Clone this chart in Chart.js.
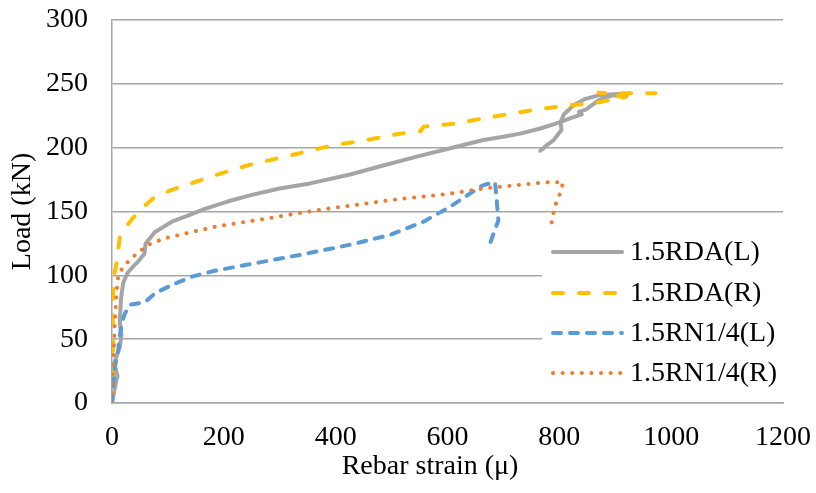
<!DOCTYPE html>
<html>
<head>
<meta charset="utf-8">
<script src="https://cdn.jsdelivr.net/npm/chart.js@4.4.1/dist/chart.umd.min.js"></script>
<style>
  html, body { margin: 0; padding: 0; background: #fff; }
  #wrap { width: 816px; height: 493px; }
</style>
</head>
<body>
<div id="wrap"><canvas id="loadChart" width="816" height="493"></canvas></div>
<script>
// Axis ticks
const xTicks = [0, 200, 400, 600, 800, 1000, 1200];
const yTicks = [0, 50, 100, 150, 200, 250, 300];

// 1.5RDA(L)
const rdaLStrain = [0, 8, 10, 4, 14, 17, 14, 16, 20, 28, 38, 47, 58, 60, 77, 107, 137, 166, 208, 250, 300, 354, 426, 485, 545, 605, 664, 700, 730, 766, 795, 819, 840, 835, 848, 870, 895, 920, 905, 870, 845, 825, 808, 802, 804, 790, 775, 766];
const rdaLLoad = [1, 18, 21, 31, 44, 53, 63, 81, 94, 102, 107, 111, 117, 125, 134, 142, 147, 152, 158, 163, 168, 172, 179, 186, 193, 199.5, 206, 208.6, 211, 215, 219, 223, 226, 228, 230, 237, 241, 240.6, 242, 241, 238, 233, 226, 220, 214, 206, 201, 197.6];

// 1.5RDA(R)
const rdaRStrain = [0, 1, 2, 1, 3, 8, 14, 23, 47, 77, 107, 148, 196, 250, 300, 348, 396, 456, 515, 545, 552, 557, 617, 664, 700, 754, 813, 864, 918, 870, 912, 962, 972];
const rdaRLoad = [0, 20, 45, 70, 99, 109, 130, 137, 150, 161.6, 167, 173, 180, 187, 192, 197, 202, 206, 211, 212.5, 213, 216.4, 219, 223, 225.6, 229.5, 233, 235, 239.5, 243, 242.6, 242.6, 242.6];

// 1.5RN1/4(L)
const rnLStrain = [0, 1, 5, 11, 17, 23, 32, 59, 77, 107, 143, 184, 250, 336, 426, 497, 557, 605, 640, 664, 685, 688, 691, 676];
const rnLLoad = [0, 5, 28, 41.5, 62, 70, 77, 79, 86, 92.4, 99, 103.6, 109, 116, 124, 131.6, 142, 153.8, 164, 170.7, 173, 159, 143, 125];

// 1.5RN1/4(R)
const rnRStrain = [0, 2, 5, 8, 11, 20, 32, 44, 65, 95, 143, 190, 250, 366, 500, 605, 664, 754, 783, 807, 801, 792, 786, 783];
const rnRLoad = [0, 28, 62, 86, 99, 107, 112, 117, 124, 129, 134, 138.6, 142.6, 151, 159, 164, 168, 172, 173, 173, 164, 154, 141, 134];

const FONT = "'Liberation Serif', 'Times New Roman', serif";
const FSIZE = 28;

function pts(xs, ys) {
    return xs.map((x, i) => ({ x: x, y: ys[i] }));
}

function series(label, xs, ys, color, dash, width, order) {
    return {
        label: label,
        data: pts(xs, ys),
        borderColor: color,
        backgroundColor: color,
        borderWidth: width,
        borderDash: dash,
        borderCapStyle: 'round',
        borderJoinStyle: 'round',
        pointRadius: 0,
        showLine: true,
        tension: 0,
        fill: false,
        order: order
    };
}

const datasets = [
    series('1.5RDA(L)', rdaLStrain, rdaLLoad, '#A5A5A5', [], 4, 4),
    series('1.5RDA(R)', rdaRStrain, rdaRLoad, '#FFC000', [10, 16], 4, 3),
    series('1.5RN1/4(L)', rnLStrain, rnLLoad, '#5B9BD5', [8, 9], 4, 2),
    series('1.5RN1/4(R)', rnRStrain, rnRLoad, '#ED7D31', [0.1, 9.5], 4, 1)
];

// Legend box inside the plot + x axis title
const overlay = {
    id: 'overlay',
    afterDraw(chart) {
        const ctx = chart.ctx;
        ctx.save();
        ctx.fillStyle = '#fff';
        ctx.fillRect(542, 226, 242, 175);
        const rows = [252, 293, 333, 373];
        chart.data.datasets.forEach((ds, i) => {
            const y = rows[i];
            ctx.beginPath();
            ctx.strokeStyle = ds.borderColor;
            ctx.lineWidth = ds.borderWidth;
            ctx.lineCap = 'round';
            ctx.setLineDash(ds.borderDash);
            ctx.moveTo(553, y);
            ctx.lineTo(622, y);
            ctx.stroke();
            ctx.setLineDash([]);
            ctx.fillStyle = '#000';
            ctx.font = FSIZE + 'px ' + FONT;
            ctx.textAlign = 'left';
            ctx.textBaseline = 'middle';
            ctx.fillText(ds.label, 630, y + 1);
        });
        ctx.fillStyle = '#000';
        ctx.font = FSIZE + 'px ' + FONT;
        ctx.textAlign = 'center';
        ctx.textBaseline = 'middle';
        ctx.fillText('Rebar strain (\u03bc)', 430, 467);
        ctx.restore();
    }
};

const ctx = document.getElementById('loadChart').getContext('2d');
const loadChart = new Chart(ctx, {
    type: 'scatter',
    data: { datasets: datasets },
    plugins: [overlay],
    options: {
        responsive: false,
        animation: false,
        devicePixelRatio: 1,
        layout: { padding: { top: 20, right: 33, left: 0, bottom: 0 } },
        plugins: {
            legend: { display: false },
            tooltip: { enabled: false }
        },
        scales: {
            x: {
                type: 'linear',
                min: 0,
                max: 1200,
                afterBuildTicks: s => { s.ticks = xTicks.map(v => ({ value: v })); },
                afterFit: s => { s.height = 90; s.paddingLeft = 0; s.paddingRight = 0; },
                grid: { display: false, drawTicks: false },
                border: { display: true, color: '#A6A6A6', width: 1.5 },
                ticks: { padding: 18, color: '#000', font: { family: FONT, size: FSIZE }, maxRotation: 0, callback: v => String(v) }
            },
            y: {
                type: 'linear',
                min: 0,
                max: 300,
                afterBuildTicks: s => { s.ticks = yTicks.map(v => ({ value: v })); },
                afterFit: s => { s.width = 112; s.paddingTop = 0; s.paddingBottom = 0; },
                grid: { color: '#A6A6A6', lineWidth: 1.5, drawTicks: false },
                border: { display: true, color: '#A6A6A6', width: 1.5 },
                ticks: { padding: 24, color: '#000', font: { family: FONT, size: FSIZE }, callback: v => String(v) },
                title: {
                    display: true,
                    text: 'Load (kN)',
                    color: '#000',
                    font: { family: FONT, size: FSIZE },
                    padding: { top: 6, bottom: 0 }
                }
            }
        }
    }
});
</script>
</body>
</html>
